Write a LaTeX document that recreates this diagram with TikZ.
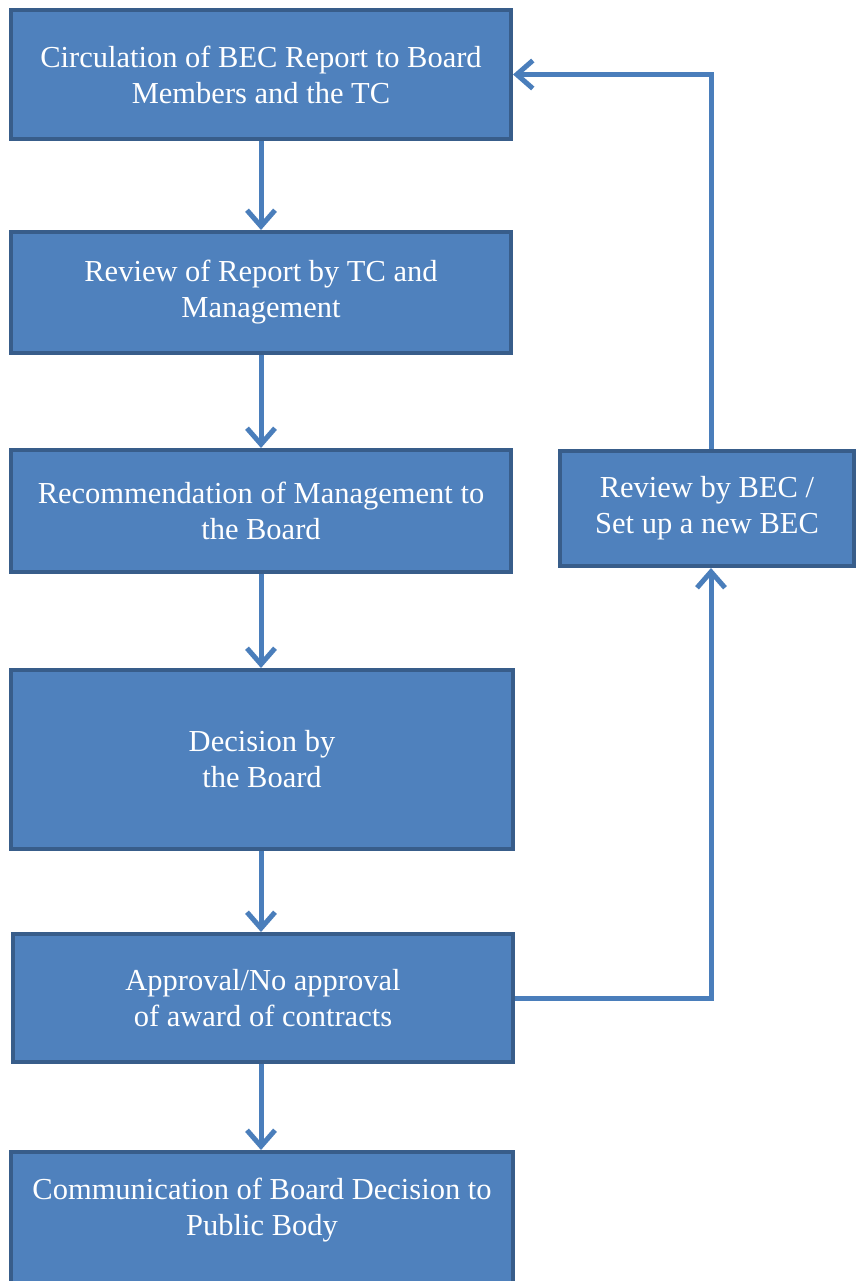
\documentclass[tikz,border=0pt]{standalone}
\usepackage{fontspec}
\setmainfont{Liberation Serif}
\usetikzlibrary{arrows.meta}
\definecolor{boxfill}{HTML}{4F81BD}
\definecolor{boxline}{HTML}{385D8A}
\definecolor{arrowc}{HTML}{4A7EBB}
\begin{document}
\begin{tikzpicture}[x=1pt,y=-1pt,
  box/.style={draw=boxline,line width=4pt,fill=boxfill,text=white,align=center,
    font=\fontsize{30.5}{36}\selectfont,inner sep=0pt,minimum width=500pt},
  txt/.style={text=white,align=center,font=\fontsize{30.5}{36}\selectfont,inner sep=0pt},
  conn/.style={draw=arrowc,line width=5pt,-{Straight Barb[length=16pt,width=28pt,line width=5pt]}}]
\useasboundingbox (0,0) rectangle (856,1281);
\node[box,minimum height=129pt] (b1) at (261,74.5) {Circulation of BEC Report to Board\\Members and the TC};
\node[box,minimum height=121pt] (b2) at (261,292.5) {Review of Report by TC and\\Management};
\node[box,minimum height=122pt] (b3) at (261,511) {Recommendation of Management to\\the Board};
\node[box,minimum height=179pt,minimum width=502pt] (b4) at (262,759.5) {Decision by\\the Board};
\node[box,minimum height=128pt] (b5) at (263,998) {Approval/No approval\\of award of contracts};
\node[box,minimum height=136pt,minimum width=502pt] (b6) at (262,1220) {};
\node[txt] (t6) at (262,1210) {Communication of Board Decision to\\Public Body};
\node[box,minimum height=115pt,minimum width=294pt] (r) at (707,508.5) {Review by BEC /\\Set up a new BEC};
\coordinate (rb) at (711,568);
\coordinate (rt) at (711,449);
\draw[conn] (b1.south) -- (b1.south |- b2.north);
\draw[conn] (b2.south) -- (b2.south |- b3.north);
\draw[conn] (b3.south) -- (b3.south |- b4.north);
\draw[conn] (b3.south |- b4.south) -- (b3.south |- b5.north);
\draw[conn] (b3.south |- b5.south) -- (b3.south |- b6.north);
\draw[conn] (b5.east) -| (rb);
\draw[conn] (rt) |- (b1.east);
\end{tikzpicture}
\end{document}
